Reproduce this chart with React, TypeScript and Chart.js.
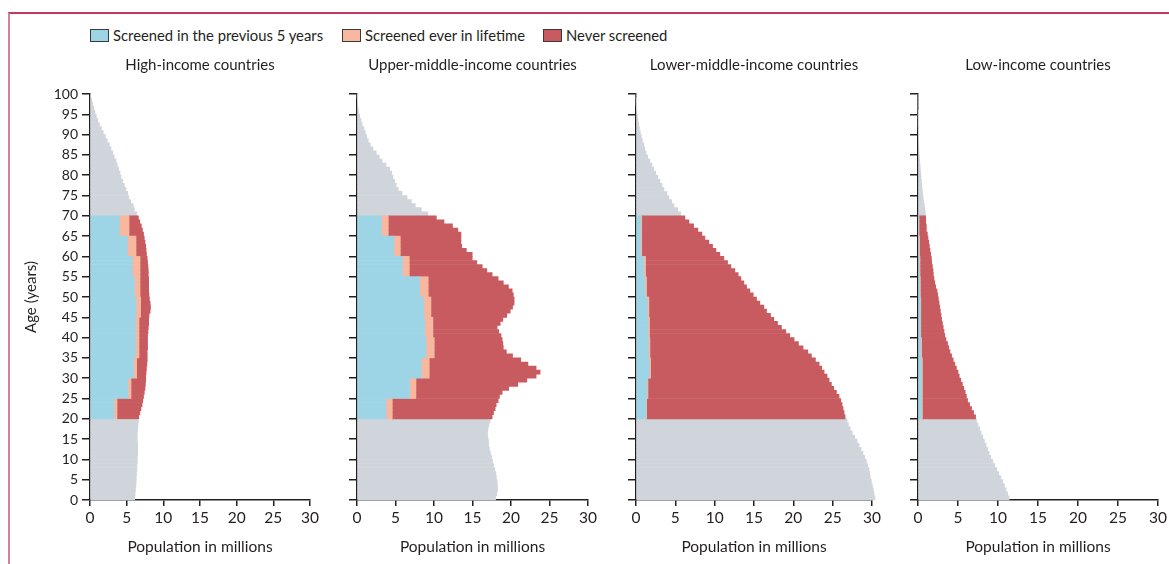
import React, { useEffect, useRef } from 'react';
import { Chart, registerables } from 'chart.js';

Chart.register(...registerables);

// ---------- data ----------
// single-year ages 0..99 (each bar covers [age, age+1])
const AGES: number[] = Array.from({ length: 100 }, (_, i) => i);
const SCREEN_START = 20;
const SCREEN_END = 70; // exclusive
const AGE_GROUP_LABELS = ['20–24', '25–29', '30–34', '35–39', '40–44', '45–49', '50–54', '55–59', '60–64', '65–69'];

const PANEL_TITLES = ['High-income countries', 'Upper-middle-income countries', 'Lower-middle-income countries', 'Low-income countries'];
const SERIES_LABELS = ['Screened in the previous 5 years', 'Screened ever in lifetime', 'Never screened'];
const X_AXIS_TITLE = 'Population in millions';
const Y_AXIS_TITLE = 'Age (years)';

// total female population (millions) by single year of age 0..99
const hicTotal = [
  6.1, 6.15, 6.2, 6.25, 6.3, 6.3, 6.35, 6.4, 6.4, 6.45, 6.45, 6.5, 6.5, 6.5, 6.45, 6.45, 6.45, 6.5, 6.55, 6.6,
  6.65, 6.8, 6.95, 7.1, 7.2, 7.3, 7.4, 7.5, 7.55, 7.6, 7.6, 7.65, 7.7, 7.75, 7.8, 7.8, 7.8, 7.85, 7.85, 7.85,
  7.85, 7.9, 7.95, 8.0, 8.0, 8.05, 8.2, 8.25, 8.2, 8.1, 8.05, 8.0, 8.0, 8.0, 8.0, 7.95, 7.95, 7.9, 7.85, 7.8,
  7.7, 7.65, 7.6, 7.5, 7.4, 7.3, 7.15, 7.0, 6.8, 6.6,
  6.36, 6.05, 5.9, 5.55, 5.27, 5.14, 4.9, 4.68, 4.45, 4.23, 4.1, 3.9, 3.73, 3.55, 3.32, 3.09, 2.86, 2.64, 2.36, 2.09,
  1.82, 1.55, 1.27, 1.05, 0.86, 0.68, 0.5, 0.36, 0.23, 0.1,
];
const umicTotal = [
  18.0, 18.16, 18.24, 18.24, 18.2, 18.1, 18.03, 17.9, 17.73, 17.6, 17.47, 17.34, 17.2, 17.12, 17.08, 17.0, 16.95, 17.0, 17.12, 17.3,
  17.55, 17.73, 17.94, 18.07, 18.33, 18.5, 18.85, 19.7, 20.88, 22.05, 23.26, 23.78, 23.26, 22.2, 21.27, 20.2, 19.4, 19.0, 18.94, 18.85,
  18.7, 18.4, 18.2, 18.6, 18.94, 19.45, 19.9, 20.2, 20.4, 20.4, 20.3, 20.15, 19.67, 19.0, 18.33, 17.55, 16.86, 16.26, 15.56, 14.96,
  14.96, 14.2, 13.6, 13.5, 13.5, 13.5, 13.1, 12.4, 11.3, 10.3,
  9.2, 8.35, 7.57, 7.05, 6.5, 5.84, 5.36, 5.1, 4.89, 4.67, 4.5, 4.24, 3.76, 3.24, 2.9, 2.5, 2.08, 1.73, 1.47, 1.25,
  1.08, 0.9, 0.65, 0.52, 0.35, 0.22, 0.13, 0.07, 0.04, 0.02,
];
const lmicTotal = [
  30.38, 30.26, 30.17, 30.05, 29.92, 29.79, 29.7, 29.62, 29.45, 29.28, 29.07, 28.86, 28.6, 28.35, 28.1, 27.8, 27.5, 27.25, 27.0, 26.83,
  26.58, 26.45, 26.32, 26.2, 26.03, 25.81, 25.48, 25.14, 24.84, 24.55, 24.29, 23.91, 23.61, 23.28, 22.81, 22.3, 21.84, 21.24, 20.65, 20.1,
  19.55, 19.04, 18.49, 17.99, 17.52, 17.1, 16.59, 16.25, 15.74, 15.32, 14.9, 14.47, 14.05, 13.71, 13.33, 12.99, 12.57, 12.06, 11.64, 11.17,
  10.66, 10.16, 9.73, 9.27, 8.76, 8.38, 7.87, 7.32, 6.73, 6.22,
  5.67, 5.29, 4.82, 4.53, 4.19, 3.94, 3.55, 3.3, 3.05, 2.75, 2.5, 2.24, 2.03, 1.78, 1.48, 1.27, 1.1, 0.97, 0.8, 0.68,
  0.55, 0.42, 0.34, 0.25, 0.17, 0.08, 0.04, 0.02, 0.01, 0.0,
];
const licTotal = [
  11.4, 11.2, 11.0, 10.8, 10.6, 10.35, 10.1, 9.85, 9.6, 9.35, 9.1, 8.9, 8.7, 8.5, 8.3, 8.1, 7.9, 7.7, 7.5, 7.31,
  7.2, 6.95, 6.7, 6.45, 6.2, 6.05, 5.9, 5.72, 5.55, 5.35, 5.15, 5.0, 4.8, 4.6, 4.4, 4.2, 4.0, 3.85, 3.7, 3.5,
  3.35, 3.25, 3.15, 3.05, 2.95, 2.88, 2.8, 2.72, 2.63, 2.55, 2.47, 2.38, 2.21, 2.09, 2.0, 1.92, 1.88, 1.8, 1.71, 1.67,
  1.59, 1.5, 1.42, 1.34, 1.25, 1.17, 1.04, 1.04, 0.96, 0.96,
  0.92, 0.88, 0.8, 0.71, 0.63, 0.58, 0.5, 0.46, 0.42, 0.38, 0.33, 0.29, 0.25, 0.21, 0.17, 0.13, 0.1, 0.08, 0.06, 0.05,
  0.04, 0.03, 0.02, 0.02, 0.01, 0.01, 0, 0, 0, 0,
];

// screened women per single year of age (millions), by 5-year age group 20-24 ... 65-69
const hicScreened5 = [3.27, 5.18, 5.91, 6.18, 6.18, 6.27, 6.05, 5.73, 5.09, 4.0];
const hicScreenedEver = [0.41, 0.41, 0.45, 0.5, 0.5, 0.64, 0.77, 1.09, 1.18, 1.32];
const umicScreened5 = [3.76, 6.83, 8.34, 8.95, 8.78, 8.65, 8.13, 5.88, 4.76, 3.16];
const umicScreenedEver = [0.82, 0.82, 1.04, 1.08, 1.08, 0.95, 1.12, 0.91, 0.86, 0.9];
const lmicScreened5 = [1.27, 1.4, 1.69, 1.57, 1.52, 1.44, 1.14, 0.97, 0.6, 0.6];
const lmicScreenedEver = [0.08, 0.12, 0.17, 0.2, 0.2, 0.2, 0.2, 0.25, 0.13, 0.13];
const licScreened5 = [0.45, 0.45, 0.45, 0.35, 0.3, 0.3, 0.2, 0.15, 0.1, 0.08];
const licScreenedEver = [0.1, 0.1, 0.1, 0.1, 0.05, 0.05, 0.1, 0.1, 0.1, 0.05];

const X_TICKS = [0, 5, 10, 15, 20, 25, 30];
const Y_TICKS = [0, 5, 10, 15, 20, 25, 30, 35, 40, 45, 50, 55, 60, 65, 70, 75, 80, 85, 90, 95, 100];

// ---------- styles ----------
const COLORS = { s5: '#9dd5e7', ever: '#f8b89f', never: '#c75b5f', other: '#d0d5dc' };
const INK = '#231f20';
const FONT = 'Lato';

type PanelSpec = {
  title: string;
  total: number[];
  s5: number[];
  ever: number[];
  left: number; // canvas left in page px
  yWidth: number; // y-axis box width
  plotWidth: number;
  rightPad: number;
  first: boolean;
};

const CANVAS_TOP = 45;
const CANVAS_H = 519;

const PANELS: PanelSpec[] = [
  { title: PANEL_TITLES[0], total: hicTotal, s5: hicScreened5, ever: hicScreenedEver, left: 12, yWidth: 78, plotWidth: 220, rightPad: 12, first: true },
  { title: PANEL_TITLES[1], total: umicTotal, s5: umicScreened5, ever: umicScreenedEver, left: 348, yWidth: 9, plotWidth: 231, rightPad: 12, first: false },
  { title: PANEL_TITLES[2], total: lmicTotal, s5: lmicScreened5, ever: lmicScreenedEver, left: 627, yWidth: 9, plotWidth: 236, rightPad: 12, first: false },
  { title: PANEL_TITLES[3], total: licTotal, s5: licScreened5, ever: licScreenedEver, left: 909, yWidth: 9, plotWidth: 240, rightPad: 10, first: false },
];

function buildDatasets(total: number[], s5: number[], ever: number[]) {
  const blue: any[] = [];
  const orange: any[] = [];
  const red: any[] = [];
  const gray: any[] = [];
  AGES.forEach((age, i) => {
    const y = age + 0.5;
    if (age >= SCREEN_START && age < SCREEN_END) {
      const g = Math.floor((age - SCREEN_START) / 5);
      blue.push({ x: s5[g], y });
      orange.push({ x: ever[g], y });
      red.push({ x: Math.max(0, total[i] - s5[g] - ever[g]), y });
      gray.push({ x: null, y });
    } else {
      blue.push({ x: null, y });
      orange.push({ x: null, y });
      red.push({ x: null, y });
      gray.push({ x: total[i], y });
    }
  });
  const common = { borderWidth: 0, barPercentage: 1, categoryPercentage: 1, clip: false as any, stack: 'pop' };
  return [
    { label: SERIES_LABELS[0], data: blue, backgroundColor: COLORS.s5, ...common },
    { label: SERIES_LABELS[1], data: orange, backgroundColor: COLORS.ever, ...common },
    { label: SERIES_LABELS[2], data: red, backgroundColor: COLORS.never, ...common },
    { label: 'Outside screening ages', data: gray, backgroundColor: COLORS.other, ...common },
  ];
}

function Panel({ spec }: { spec: PanelSpec }) {
  const ref = useRef<HTMLCanvasElement>(null);
  const width = spec.yWidth + spec.plotWidth + spec.rightPad;
  useEffect(() => {
    if (!ref.current) return;
    const chart = new Chart(ref.current, {
      type: 'bar',
      data: { datasets: buildDatasets(spec.total, spec.s5, spec.ever) as any },
      options: {
        indexAxis: 'y',
        responsive: false,
        maintainAspectRatio: false,
        animation: false,
        events: [],
        layout: { padding: { top: 0, bottom: 0, left: 0, right: spec.rightPad } },
        plugins: {
          legend: { display: false },
          tooltip: { enabled: false },
          title: {
            display: true,
            text: spec.title,
            fullSize: false,
            color: INK,
            font: { family: FONT, size: 15, weight: 'normal' as any },
            padding: { top: 11, bottom: 20 },
          },
        },
        scales: {
          x: {
            type: 'linear',
            min: 0,
            max: 30,
            stacked: true,
            offset: false,
            afterBuildTicks: (s: any) => {
              s.ticks = X_TICKS.map((v) => ({ value: v }));
            },
            afterFit: (s: any) => {
              s.height = 64;
              s.paddingLeft = 0;
              s.paddingRight = 0;
            },
            grid: { drawOnChartArea: false, drawTicks: true, tickLength: 6, color: INK, lineWidth: 1.5, offset: false },
            border: { display: true, color: INK, width: 1.5 },
            ticks: { color: INK, font: { family: FONT, size: 15.5 }, padding: 3, maxRotation: 0, autoSkip: false },
            title: {
              display: true,
              text: X_AXIS_TITLE,
              color: INK,
              font: { family: FONT, size: 15.5 },
              padding: { top: 0, bottom: 8 },
            },
          },
          y: {
            type: 'linear',
            min: 0,
            max: 100,
            stacked: true,
            offset: false,
            afterBuildTicks: (s: any) => {
              s.ticks = Y_TICKS.map((v) => ({ value: v }));
            },
            afterFit: (s: any) => {
              s.width = spec.yWidth;
              s.paddingTop = 0;
              s.paddingBottom = 0;
            },
            grid: { drawOnChartArea: false, drawTicks: true, tickLength: 8, color: INK, lineWidth: 1.5, offset: false },
            border: { display: true, color: INK, width: 1.5 },
            ticks: { display: spec.first, color: INK, font: { family: FONT, size: 14 }, padding: 4, autoSkip: false },
            title: {
              display: spec.first,
              text: Y_AXIS_TITLE,
              color: INK,
              font: { family: FONT, size: 15 },
              padding: { top: 10, bottom: 0 },
            },
          },
        },
      },
    });
    return () => chart.destroy();
  }, [spec]);
  return (
    <div style={{ position: 'absolute', left: spec.left, top: CANVAS_TOP, width, height: CANVAS_H }}>
      <canvas ref={ref} width={width} height={CANVAS_H} style={{ display: 'block', width, height: CANVAS_H }} />
    </div>
  );
}

const LEGEND_ITEMS = [
  { label: SERIES_LABELS[0], color: COLORS.s5, boxLeft: 90, textLeft: 113 },
  { label: SERIES_LABELS[1], color: COLORS.ever, boxLeft: 342, textLeft: 365 },
  { label: SERIES_LABELS[2], color: COLORS.never, boxLeft: 543, textLeft: 566 },
];

export default function App() {
  return (
    <div
      style={{
        position: 'absolute',
        left: 0,
        top: 0,
        width: 1169,
        height: 564,
        overflow: 'hidden',
        background: '#ffffff',
        fontFamily: FONT,
        color: INK,
      }}
    >
      <div
        style={{
          position: 'absolute',
          left: 8,
          top: 12,
          right: 0,
          bottom: -4,
          borderTop: '2px solid #c8375f',
          borderLeft: '2px solid #d6809a',
        }}
      />
      {LEGEND_ITEMS.map((it) => (
        <React.Fragment key={it.label}>
          <div
            style={{
              position: 'absolute',
              left: it.boxLeft,
              top: 29,
              width: 19,
              height: 13,
              boxSizing: 'border-box',
              border: '1px solid #3a3a3a',
              background: it.color,
            }}
          />
          <div
            style={{
              position: 'absolute',
              left: it.textLeft,
              top: 25,
              fontSize: 14.8,
              lineHeight: '20px',
              whiteSpace: 'nowrap',
            }}
          >
            {it.label}
          </div>
        </React.Fragment>
      ))}
      {PANELS.map((p) => (
        <Panel key={p.title} spec={p} />
      ))}
    </div>
  );
}
